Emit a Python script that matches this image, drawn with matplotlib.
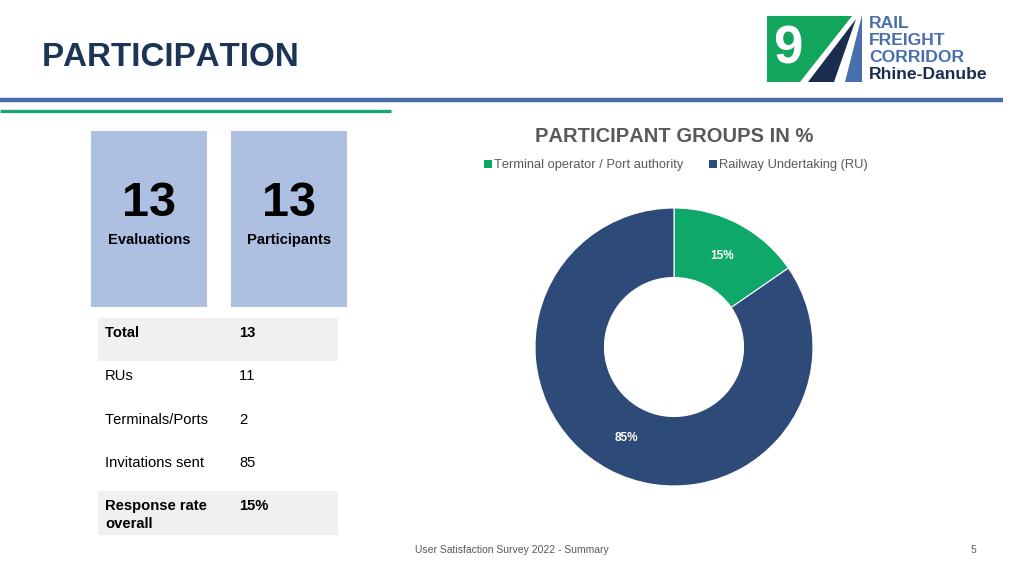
import matplotlib
matplotlib.use('Agg')
import matplotlib.pyplot as plt
from matplotlib.patches import Rectangle, Polygon

# data
kpi_values = ['13', '13']
kpi_labels = ['Evaluations', 'Participants']

table_labels = ['Total', 'RUs', 'Terminals/Ports', 'Invitations sent', 'Response rate\noverall']
table_values = ['13', '11', '2', '85', '15%']
table_bold = [True, False, False, False, True]

groups = ['Terminal operator / Port authority', 'Railway Undertaking (RU)']
group_counts = [2, 11]

GREEN = '#0ea86b'
NAVY = '#2d4a78'
BOXBLUE = '#adc0e1'
GRAY = '#595959'

plt.rcParams['font.family'] = ['Liberation Sans', 'DejaVu Sans']
plt.rcParams['text.kerning_factor'] = 6  # no pair kerning, like the slide

fig = plt.figure(figsize=(10.24, 5.76), dpi=100)
ax = fig.add_axes([0, 0, 1, 1])
ax.set_xlim(0, 1024)
ax.set_ylim(576, 0)
ax.axis('off')

# header
ax.text(42, 57, 'PARTICIPATION', fontsize=23.9, fontweight='bold', color='#1c3557',
        va='center', ha='left')
ax.plot([0, 1003], [100, 100], color='#4a6fa8', lw=3.2, solid_capstyle='butt')
ax.plot([0, 391], [111, 111], color='#17a673', lw=2.4, solid_capstyle='butt')

# logo
ax.add_patch(Polygon([(767, 16), (852, 16), (800, 82), (767, 82)], closed=True, color='#12a65c', lw=0))
ax.add_patch(Polygon([(808, 82), (834, 82), (856, 19)], closed=True, color='#1a2d50', lw=0))
ax.add_patch(Polygon([(845, 82), (862, 82), (862, 15)], closed=True, color='#4a6fad', lw=0))
ax.text(788, 50, '9', fontsize=38, fontweight='bold', color='white', ha='center', va='center')
for i, (w, c) in enumerate([('RAIL', '#4a6fad'), ('FREIGHT', '#4a6fad'),
                            ('CORRIDOR', '#4a6fad'), ('Rhine-Danube', '#1a2d50')]):
    ax.text(869, 23 + i * 17.3, w, fontsize=12.6, fontweight='bold', color=c,
            ha='left', va='center')

# KPI boxes
for i, (v, lab) in enumerate(zip(kpi_values, kpi_labels)):
    x0 = 91 + i * 140
    ax.add_patch(Rectangle((x0, 131), 116, 176, color=BOXBLUE, lw=0))
    ax.text(x0 + 58, 203, v, fontsize=35, fontweight='bold', color='black', ha='center', va='center')
    ax.text(x0 + 58, 240, lab, fontsize=10.6, fontweight='bold', color='black', ha='center', va='center')

# table
row_h = 43.3
for i, (lab, val, b) in enumerate(zip(table_labels, table_values, table_bold)):
    top = 318 + i * row_h
    if b:
        ax.add_patch(Rectangle((98, top), 240, row_h, color='#f0f0f0', lw=0))
    fw = 'bold' if b else 'normal'
    ax.text(105, top + 8, lab, fontsize=10.6, fontweight=fw, color='black', ha='left', va='top',
            linespacing=1.3)
    ax.text(239, top + 8, val, fontsize=10.6, fontweight=fw, color='black', ha='left', va='top')

# chart title and legend
ax.text(674, 136, 'PARTICIPANT GROUPS IN %', fontsize=14.5, fontweight='bold', color=GRAY,
        ha='center', va='center')
leg_x = [484, 709]
for x, g, c in zip(leg_x, groups, [GREEN, NAVY]):
    ax.add_patch(Rectangle((x, 160), 8, 8, color=c, lw=0))
    ax.text(x + 10, 165, g, fontsize=9.3, color=GRAY, ha='left', va='center')

# footer
ax.text(512, 550, 'User Satisfaction Survey 2022 - Summary', fontsize=7.5, color=GRAY,
        ha='center', va='center')
ax.text(973, 550, '5', fontsize=7.5, color=GRAY, ha='center', va='center')

# donut
cx, cy, r = 674, 347, 139
dax = fig.add_axes([(cx - r) / 1024, (576 - cy - r) / 576, 2 * r / 1024, 2 * r / 576])
wedges, texts, autotexts = dax.pie(group_counts, colors=[GREEN, NAVY], startangle=90,
                                   counterclock=False, radius=1, autopct='%.0f%%',
                                   pctdistance=0.74,
                                   wedgeprops=dict(width=0.5, edgecolor='white', linewidth=0.8),
                                   textprops=dict(color='white', fontsize=8.5, fontweight='bold'))
dax.set_xlim(-1, 1)
dax.set_ylim(-1, 1)
dax.set_aspect('auto')
dax.axis('off')

fig.savefig('out.png', dpi=100)
